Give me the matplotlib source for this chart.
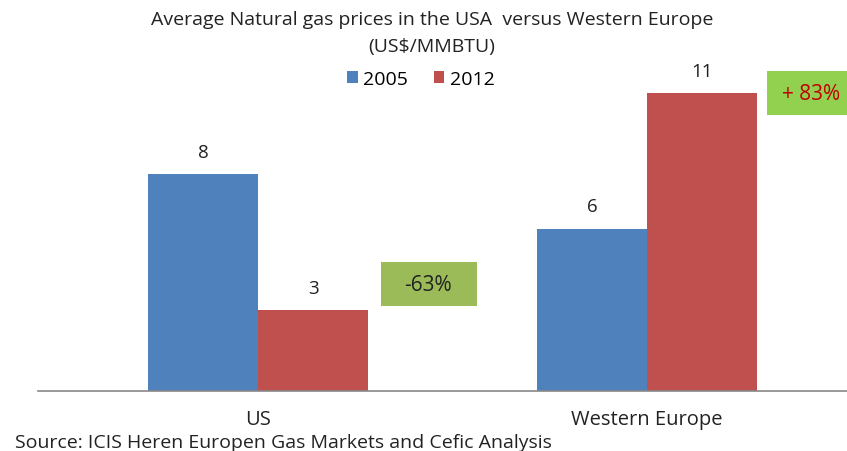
import matplotlib
matplotlib.use("Agg")
import matplotlib.pyplot as plt
from matplotlib.patches import Rectangle
import numpy as np

categories = ["US", "Western Europe"]
series_names = ["2005", "2012"]
values_2005 = [8, 6]
values_2012 = [3, 11]
value_labels_2005 = ["8", "6"]
value_labels_2012 = ["3", "11"]
change_labels = ["-63%", "+ 83%"]

plt.rcParams['font.family'] = ['Open Sans', 'DejaVu Sans']
TXT = "#222222"

W, H = 847, 452
fig = plt.figure(figsize=(W/100, H/100), dpi=100)
ax = fig.add_axes([38/W, 60/H, 1 - 38/W, (392-67)/H])

x = np.arange(len(categories))
w = 0.283
c1, c2 = "#4F81BD", "#C0504D"
b1 = ax.bar(x - w/2, values_2005, w, color=c1, label=series_names[0])
b2 = ax.bar(x + w/2, values_2012, w, color=c2, label=series_names[1])

for bars, labs in ((b1, value_labels_2005), (b2, value_labels_2012)):
    for r, lab in zip(bars, labs):
        ax.annotate(lab, (r.get_x() + r.get_width()/2, r.get_height()),
                    xytext=(0, 16), textcoords="offset points",
                    ha="center", va="center", fontsize=13.5, color=TXT)

ax.set_xlim(-0.566, 1.514)
ax.set_ylim(0, 12)
for s in ["top", "right", "left"]:
    ax.spines[s].set_visible(False)
ax.spines["bottom"].set_color("#888888")
ax.spines["bottom"].set_linewidth(1.2)
ax.set_yticks([])
ax.set_xticks(x)
ax.set_xticklabels(categories, fontsize=14.5, color=TXT)
ax.tick_params(axis="x", length=0, pad=13)

# change boxes (figure pixel geometry)
def box(x0, y0, x1, y1, fc):
    fig.patches.append(Rectangle((x0/W, 1 - y1/H), (x1-x0)/W, (y1-y0)/H,
                                 transform=fig.transFigure, fc=fc, ec="none"))

box(381, 263, 477, 307, "#9BBB59")
fig.text(428/W, 1 - 286/H, change_labels[0], ha="center", va="center",
         fontsize=15, color=TXT)
box(767, 72, 860, 116, "#92D050")
fig.text(782/W, 1 - 95/H, change_labels[1], ha="left", va="center",
         fontsize=15, color="#C00000")

fig.text(432/W, 1 - 20/H, "Average Natural gas prices in the USA  versus Western Europe",
         ha="center", va="center", fontsize=14, color=TXT)
fig.text(432/W, 1 - 47/H, "(US$/MMBTU)",
         ha="center", va="center", fontsize=14, color=TXT)

fig.legend(handles=[b1, b2], labels=series_names, loc="center",
           bbox_to_anchor=(421/W, 1 - 80/H), ncol=2, frameon=False,
           fontsize=14, handlelength=0.55, handleheight=0.55, columnspacing=1.3,
           handletextpad=0.3)

fig.text(15/W, 1 - 443/H, "Source: ICIS Heren Europen Gas Markets and Cefic Analysis",
         ha="left", va="center", fontsize=14, color=TXT)

fig.savefig("out.png", dpi=100)
